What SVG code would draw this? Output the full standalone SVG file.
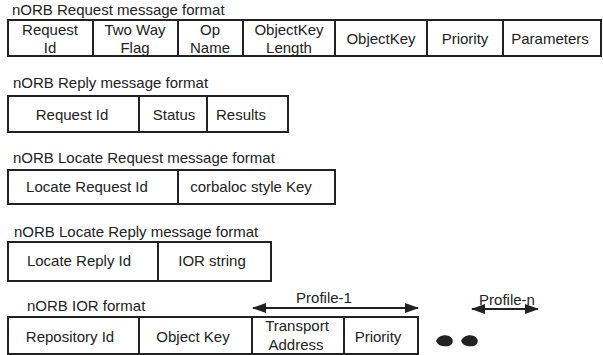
<svg xmlns="http://www.w3.org/2000/svg" width="603" height="355" viewBox="0 0 603 355">
<defs>
<style>
text{font-family:"Liberation Sans",Arial,sans-serif;font-size:15px;fill:#222}
.c{text-anchor:middle}
.b{fill:none;stroke:#222;stroke-width:2}
.a{stroke:#222;stroke-width:2;fill:none}
</style>
<marker id="ah" viewBox="0 0 14 10" refX="13" refY="5" markerWidth="14" markerHeight="10" markerUnits="userSpaceOnUse" orient="auto-start-reverse">
<path d="M0,0 L14,5 L0,10 Z" fill="#222"/>
</marker>
</defs>
<rect width="603" height="355" fill="#fff"/>

<g id="request">
<text x="12" y="15">nORB Request message format</text>
<rect class="b" x="8" y="20" width="593" height="36"/>
<path class="b" d="M93,20V56M178,20V56M243,20V56M335,20V56M427,20V56M503,20V56"/>
<text class="c" x="50" y="35">Request</text><text class="c" x="50" y="53">Id</text>
<text class="c" x="135" y="35">Two Way</text><text class="c" x="135" y="53">Flag</text>
<text class="c" x="210" y="35">Op</text><text class="c" x="210" y="53">Name</text>
<text class="c" x="289" y="35">ObjectKey</text><text class="c" x="289" y="53">Length</text>
<text class="c" x="381" y="44">ObjectKey</text>
<text class="c" x="465" y="44">Priority</text>
<text class="c" x="550" y="44">Parameters</text>
</g>

<g id="reply">
<text x="13" y="88">nORB Reply message format</text>
<rect class="b" x="8" y="96" width="280" height="36"/>
<path class="b" d="M139,96V132M207,96V132"/>
<text class="c" x="72" y="120">Request Id</text>
<text class="c" x="174" y="120">Status</text>
<text class="c" x="241" y="120">Results</text>
</g>

<g id="locate-request">
<text x="13" y="163">nORB Locate Request message format</text>
<rect class="b" x="8" y="170" width="327" height="34"/>
<path class="b" d="M178,170V204"/>
<text class="c" x="87" y="192">Locate Request Id</text>
<text class="c" x="251" y="192">corbaloc style Key</text>
</g>

<g id="locate-reply">
<text x="14" y="237">nORB Locate Reply message format</text>
<rect class="b" x="8" y="242" width="263" height="39"/>
<path class="b" d="M158,242V281"/>
<text class="c" x="79" y="266">Locate Reply Id</text>
<text class="c" x="212" y="266">IOR string</text>
</g>

<g id="ior">
<text x="27" y="311">nORB IOR format</text>
<rect class="b" x="8" y="317" width="410" height="37"/>
<path class="b" d="M139,317V354M252,317V354M344,317V354"/>
<text class="c" x="70" y="342">Repository Id</text>
<text class="c" x="193" y="342">Object Key</text>
<text class="c" x="297" y="331">Transport</text><text class="c" x="296" y="350">Address</text>
<text class="c" x="378" y="342">Priority</text>
<path d="M436,341 C438,336 444,334 449,336 C454,338 454,344 449,346 C444,347 438,346 436,341 Z" fill="#222"/>
<path d="M461,341 C463,336 469,334 474,336 C479,338 479,344 474,346 C469,347 463,346 461,341 Z" fill="#222"/>
</g>

<g id="profile-1">
<text class="c" x="324" y="303">Profile-1</text>
</g>
<g id="profile-n">
<text class="c" x="507" y="305">Profile-n</text>
</g>

<g id="connectors">
<line class="a" x1="253" y1="308" x2="418" y2="308" marker-start="url(#ah)" marker-end="url(#ah)"/>
<line class="a" x1="472" y1="309" x2="538" y2="309" marker-start="url(#ah)" marker-end="url(#ah)"/>
</g>
</svg>
